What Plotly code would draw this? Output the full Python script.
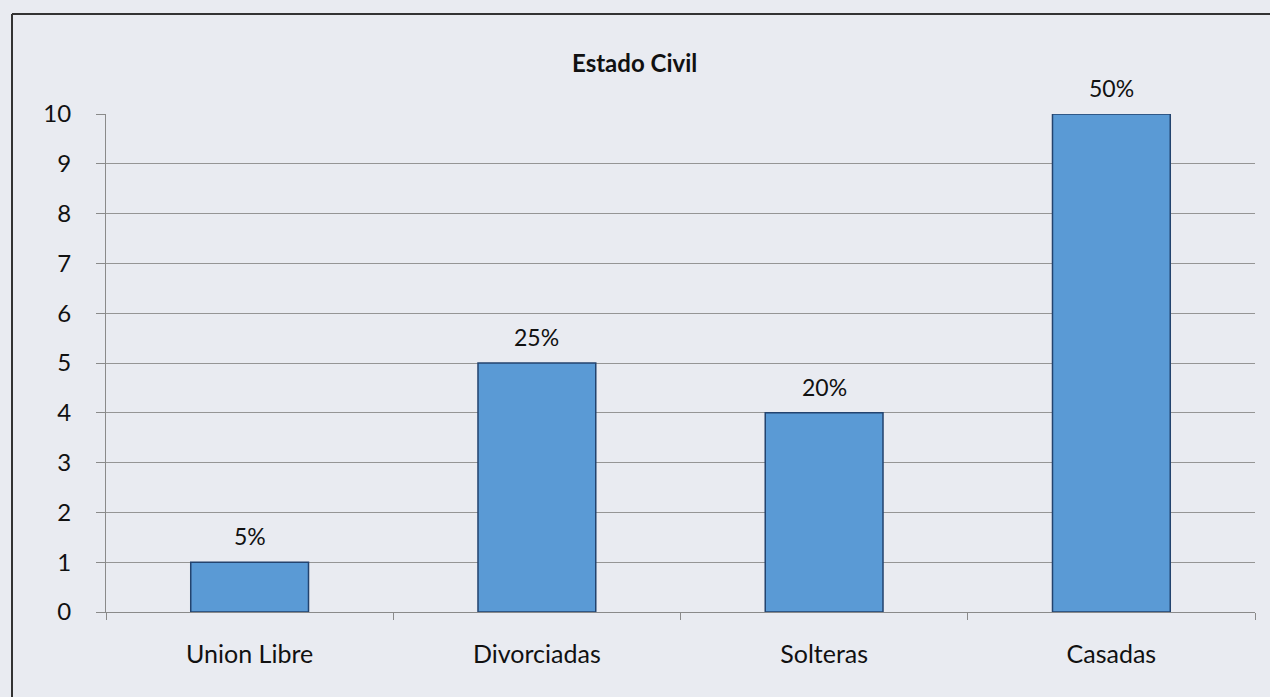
import plotly.graph_objects as go

categories = ["Union Libre", "Divorciadas", "Solteras", "Casadas"]
counts = [1, 5, 4, 10]
pct_labels = ["5%", "25%", "20%", "50%"]
y_ticks = list(range(0, 11))

W, H = 1270, 697
ML, MR, MT, MB = 106, 15, 114, 85
pw = W - ML - MR
ph = H - MT - MB

def px_x(p):
    return (p - ML) / pw

def px_y(p):
    return (H - MB - p) / ph

FONT = "Lato, Open Sans, sans-serif"
BG = "#e9ebf1"

fig = go.Figure()
fig.add_trace(go.Bar(
    x=categories, y=counts,
    marker=dict(color="#5a9ad5", line=dict(color="#23436e", width=1.5)),
    width=0.41,
    hoverinfo="skip",
))

for c, v, t in zip(categories, counts, pct_labels):
    fig.add_annotation(x=c, y=v, text=t, showarrow=False, yanchor="bottom",
                       yshift=10, font=dict(family=FONT, size=23, color="#111"))

fig.add_annotation(x=px_x(634), y=px_y(62), xref="paper", yref="paper",
                   xanchor="center", yanchor="middle",
                   text="<b>Estado Civil</b>", showarrow=False,
                   font=dict(family=FONT, size=24, color="#111"))

# border of the chart area (left and top edges visible in the photo)
fig.add_shape(type="line", xref="paper", yref="paper",
              x0=px_x(12), x1=px_x(12), y0=px_y(14), y1=px_y(700),
              line=dict(color="#333", width=2))
fig.add_shape(type="line", xref="paper", yref="paper",
              x0=px_x(12), x1=px_x(1275), y0=px_y(14), y1=px_y(14),
              line=dict(color="#333", width=2))

fig.update_layout(
    width=W, height=H,
    margin=dict(l=ML, r=MR, t=MT, b=MB),
    paper_bgcolor=BG, plot_bgcolor=BG,
    showlegend=False,
    font=dict(family=FONT, size=24, color="#111"),
)
fig.update_xaxes(
    showline=True, linecolor="#8a8a8a", linewidth=1,
    ticks="outside", ticklen=7, tickcolor="#8a8a8a", tickson="boundaries",
    showgrid=False, tickfont=dict(family=FONT, size=25, color="#111"),
    ticklabelstandoff=20,
)
fig.update_yaxes(
    range=[0, 10], tickvals=y_ticks, showline=True, linecolor="#8a8a8a",
    linewidth=1, ticks="outside", ticklen=9, tickcolor="#8a8a8a",
    showgrid=True, gridcolor="#959595", gridwidth=1, zeroline=False,
    tickfont=dict(family=FONT, size=24, color="#111"),
    ticklabelstandoff=20,
)

fig.write_html(
    "out.html",
    config={"displayModeBar": False},
    post_script="document.body.style.margin='0';document.body.style.background='%s';" % BG,
)
